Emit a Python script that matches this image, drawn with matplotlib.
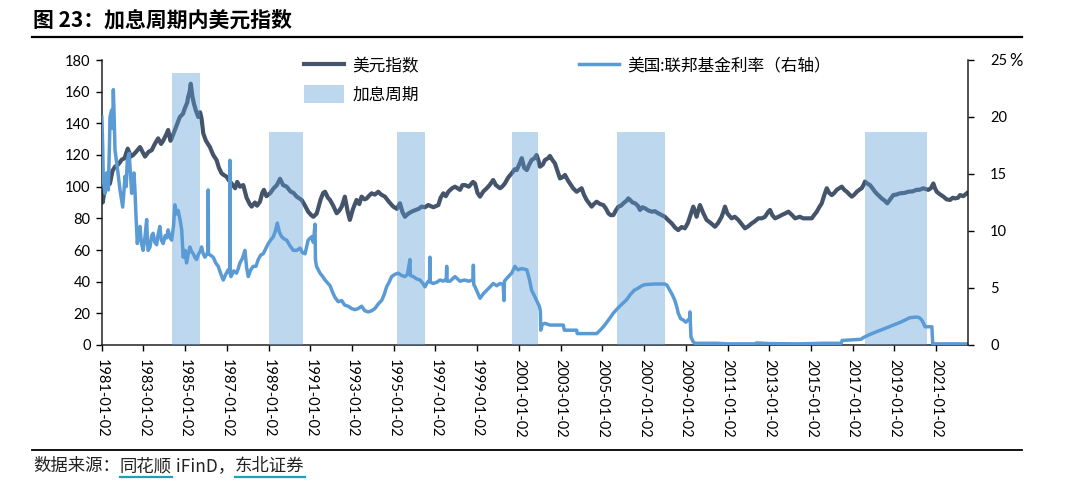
import datetime as dt
import matplotlib
matplotlib.use('Agg')
import matplotlib.pyplot as plt
import matplotlib.dates as mdates
from matplotlib.lines import Line2D

plt.rcParams['font.family'] = ['Lato', 'Noto Sans CJK SC', 'DejaVu Sans']
plt.rcParams['axes.unicode_minus'] = False

## ---- data (time as decimal year) ----
dxy_t = [1981.01, 1981.05, 1981.12, 1981.25, 1981.40, 1981.52, 1981.64, 1981.80, 1981.96, 1982.10,
         1982.25, 1982.40, 1982.51, 1982.65, 1982.84, 1983.00, 1983.08, 1983.25, 1983.40, 1983.55,
         1983.71, 1983.85, 1983.95, 1984.10, 1984.19, 1984.30, 1984.36, 1984.55, 1984.75, 1984.90,
         1984.99, 1985.10, 1985.15, 1985.22, 1985.27, 1985.35, 1985.42, 1985.52, 1985.63, 1985.72,
         1985.79, 1985.87, 1986.00, 1986.19, 1986.35, 1986.51, 1986.62, 1986.75, 1986.90, 1986.99,
         1987.10, 1987.23, 1987.40, 1987.50, 1987.63, 1987.79, 1987.95, 1988.10, 1988.19, 1988.35,
         1988.45, 1988.59, 1988.70, 1988.78, 1988.90, 1989.07, 1989.25, 1989.40, 1989.55, 1989.70,
         1989.87, 1990.05, 1990.20, 1990.35, 1990.59, 1990.75, 1990.90, 1991.05, 1991.15, 1991.31,
         1991.50, 1991.62, 1991.71, 1991.85, 1991.95, 1992.10, 1992.27, 1992.40, 1992.51, 1992.66,
         1992.80, 1992.90, 1993.05, 1993.22, 1993.35, 1993.46, 1993.60, 1993.70, 1993.80, 1993.94,
         1994.10, 1994.26, 1994.40, 1994.58, 1994.80, 1994.98, 1995.15, 1995.30, 1995.42, 1995.54,
         1995.70, 1995.86, 1996.00, 1996.20, 1996.34, 1996.50, 1996.66, 1996.90, 1997.14, 1997.25,
         1997.38, 1997.50, 1997.62, 1997.80, 1997.94, 1998.06, 1998.18, 1998.30, 1998.42, 1998.60,
         1998.80, 1998.90, 1999.02, 1999.14, 1999.30, 1999.46, 1999.60, 1999.77, 1999.90, 2000.10,
         2000.20, 2000.33, 2000.50, 2000.66, 2000.80, 2000.90, 2001.05, 2001.14, 2001.25, 2001.38,
         2001.50, 2001.61, 2001.75, 2001.85, 2001.95, 2002.01, 2002.15, 2002.25, 2002.40, 2002.49,
         2002.60, 2002.73, 2002.85, 2002.97, 2003.10, 2003.21, 2003.35, 2003.45, 2003.60, 2003.77,
         2003.90, 2004.01, 2004.12, 2004.25, 2004.40, 2004.49, 2004.60, 2004.73, 2004.90, 2005.05,
         2005.18, 2005.29, 2005.40, 2005.53, 2005.65, 2005.77, 2005.90, 2006.01, 2006.15, 2006.25,
         2006.33, 2006.45, 2006.57, 2006.70, 2006.81, 2006.92, 2007.05, 2007.20, 2007.37, 2007.52,
         2007.68, 2007.85, 2008.00, 2008.15, 2008.33, 2008.50, 2008.64, 2008.80, 2008.96, 2009.10,
         2009.20, 2009.36, 2009.45, 2009.52, 2009.60, 2009.68, 2009.85, 2010.00, 2010.20, 2010.40,
         2010.55, 2010.72, 2010.80, 2010.88, 2011.00, 2011.20, 2011.35, 2011.52, 2011.70, 2011.84,
         2012.00, 2012.16, 2012.30, 2012.48, 2012.65, 2012.80, 2012.95, 2013.04, 2013.15, 2013.28,
         2013.45, 2013.60, 2013.75, 2013.92, 2014.10, 2014.24, 2014.47, 2014.63, 2014.85, 2015.04,
         2015.15, 2015.28, 2015.40, 2015.52, 2015.65, 2015.76, 2015.88, 2016.00, 2016.12, 2016.24,
         2016.36, 2016.48, 2016.60, 2016.72, 2016.85, 2016.96, 2017.08, 2017.20, 2017.32, 2017.43,
         2017.52, 2017.59, 2017.70, 2017.83, 2017.95, 2018.07, 2018.20, 2018.39, 2018.55, 2018.66,
         2018.80, 2018.95, 2019.10, 2019.27, 2019.47, 2019.67, 2019.87, 2020.07, 2020.20, 2020.39,
         2020.50, 2020.63, 2020.75, 2020.87, 2020.95, 2021.03, 2021.20, 2021.35, 2021.50, 2021.67,
         2021.80, 2021.91, 2022.05, 2022.15, 2022.30, 2022.47]
dxy_v = [108, 90, 96, 100, 102, 110, 112.6, 114, 117, 118,
         124, 119, 120, 122, 125, 121, 119, 122, 123, 127,
         130.5, 127, 129, 133, 135.8, 129, 130.5, 137, 144, 146,
         149.5, 153, 156.8, 160, 165, 157, 152.6, 148, 144, 147,
         143, 133.7, 129, 125, 120, 116.8, 112, 108.4, 107, 106.3,
         104, 102, 99, 103, 100, 101, 93, 89, 87.4, 90,
         88, 90.5, 96, 98, 94, 95.8, 99, 101, 105, 101,
         100, 97, 96, 93.7, 91.6, 88, 84.2, 82, 81, 83,
         92, 96, 96.8, 93, 91.6, 88, 83.2, 85, 87.4, 93.7,
         84, 79, 86, 91.6, 89, 93.7, 92, 92.5, 94, 95.8,
         95, 96.8, 95, 93.7, 90, 87.4, 86, 89.5, 84, 81,
         83, 84.2, 85, 86, 87.4, 87, 88.4, 87, 88.4, 93,
         95.8, 94, 96.8, 99, 100, 99, 98, 101, 101, 100,
         103, 102, 96, 93.7, 97, 99, 101, 104.2, 101, 99,
         100, 102, 106, 108.4, 111, 110.5, 115, 118, 112, 110.5,
         114, 116.8, 118, 120, 116, 112.6, 114, 116.8, 118, 119.4,
         117, 114.7, 110, 105.2, 106, 107.4, 104, 102, 99, 96.8,
         98, 99, 95, 91.6, 89, 87.4, 89, 90.5, 89, 88.4,
         86, 83.2, 82, 82.1, 85, 87.4, 88, 89.5, 91, 92.6,
         91.6, 90, 89.5, 88, 85.3, 87, 86.3, 85, 84.2, 84.5,
         83.2, 82, 81, 79, 76.8, 74, 72.6, 74.5, 73.7, 77,
         81, 87.4, 84, 81, 85, 88.4, 83, 79, 77, 74.7,
         77, 81, 84, 87.4, 83, 80, 81, 79, 76, 73.7,
         75, 76.8, 78, 80, 80, 81, 84, 85.3, 82, 80,
         81, 82.1, 83, 84.2, 82, 80, 81, 80, 80, 80,
         82, 84.2, 87, 89.5, 95, 99, 96, 94.7, 96, 98,
         99, 100, 98, 96.8, 95, 93.7, 95, 96.8, 98, 99,
         101, 103.2, 102, 101, 99, 96.8, 95, 92.6, 91, 89.5,
         92, 94.7, 95, 95.8, 96, 96.8, 97, 98, 98, 99,
         98.5, 98, 99, 102, 99, 96.8, 95, 93.7, 92, 91.6,
         93, 92.6, 93, 94.7, 94, 95.8]

ffr_t = [1981.01, 1981.05, 1981.08, 1981.16, 1981.24, 1981.32, 1981.38, 1981.40, 1981.48, 1981.53,
         1981.56, 1981.60, 1981.64, 1981.75, 1981.82, 1981.88, 1982.01, 1982.07, 1982.12, 1982.18,
         1982.23, 1982.32, 1982.38, 1982.44, 1982.50, 1982.55, 1982.60, 1982.64, 1982.71, 1982.78,
         1982.84, 1982.90, 1982.99, 1983.08, 1983.16, 1983.20, 1983.23, 1983.32, 1983.40, 1983.47,
         1983.55, 1983.64, 1983.70, 1983.79, 1983.86, 1983.95, 1984.05, 1984.12, 1984.19, 1984.28,
         1984.36, 1984.45, 1984.51, 1984.60, 1984.67, 1984.76, 1984.84, 1984.91, 1985.00, 1985.07,
         1985.15, 1985.23, 1985.31, 1985.39, 1985.47, 1985.55, 1985.65, 1985.72, 1985.79, 1985.87,
         1985.95, 1986.05, 1986.10, 1986.11, 1986.12, 1986.20, 1986.35, 1986.47, 1986.59, 1986.70,
         1986.83, 1986.95, 1987.07, 1987.14, 1987.15, 1987.16, 1987.20, 1987.33, 1987.47, 1987.55,
         1987.63, 1987.75, 1987.87, 1987.95, 1988.03, 1988.15, 1988.27, 1988.40, 1988.51, 1988.63,
         1988.75, 1988.88, 1988.99, 1989.10, 1989.23, 1989.33, 1989.42, 1989.52, 1989.63, 1989.75,
         1989.87, 1990.03, 1990.19, 1990.35, 1990.51, 1990.63, 1990.75, 1990.90, 1991.07, 1991.15,
         1991.23, 1991.25, 1991.30, 1991.47, 1991.60, 1991.71, 1991.85, 1991.95, 1992.08, 1992.18,
         1992.34, 1992.51, 1992.65, 1992.82, 1992.98, 1993.14, 1993.30, 1993.46, 1993.62, 1993.78,
         1993.94, 1994.10, 1994.26, 1994.42, 1994.54, 1994.66, 1994.78, 1994.90, 1995.06, 1995.22,
         1995.38, 1995.54, 1995.66, 1995.78, 1995.80, 1995.94, 1996.10, 1996.26, 1996.40, 1996.50,
         1996.62, 1996.72, 1996.74, 1996.76, 1996.90, 1997.06, 1997.22, 1997.38, 1997.52, 1997.54,
         1997.56, 1997.70, 1997.94, 1998.18, 1998.40, 1998.60, 1998.80, 1998.82, 1998.84, 1998.90,
         1999.02, 1999.14, 1999.30, 1999.46, 1999.62, 1999.77, 1999.94, 2000.10, 2000.25, 2000.29,
         2000.31, 2000.45, 2000.60, 2000.66, 2000.81, 2000.95, 2001.14, 2001.38, 2001.50, 2001.61,
         2001.75, 2001.85, 2001.98, 2002.03, 2002.05, 2002.12, 2002.25, 2002.49, 2002.80, 2003.13,
         2003.18, 2003.29, 2003.77, 2003.80, 2004.73, 2004.90, 2005.05, 2005.30, 2005.53, 2005.78,
         2006.01, 2006.18, 2006.33, 2006.53, 2006.73, 2006.90, 2007.05, 2007.50, 2008.00, 2008.10,
         2008.24, 2008.36, 2008.48, 2008.58, 2008.64, 2008.76, 2008.88, 2009.00, 2009.12, 2009.18,
         2009.20, 2009.23, 2009.25, 2009.35, 2009.44, 2010.50, 2011.00, 2012.30, 2012.40, 2013.00,
         2014.50, 2015.58, 2016.45, 2016.50, 2017.40, 2017.51, 2017.80, 2018.15, 2018.55, 2018.95,
         2019.30, 2019.75, 2020.07, 2020.20, 2020.31, 2020.40, 2020.47, 2020.80, 2020.84, 2022.47]
ffr_v = [20.0, 17.5, 14.5, 13.3, 15.1, 13.6, 18.0, 20.0, 20.6, 19.0,
         22.4, 20.0, 17.1, 15.6, 14.5, 13.6, 12.1, 13.5, 14.8, 13.9,
         16.2, 16.8, 15.0, 13.3, 14.5, 15.1, 13.5, 11.6, 8.9, 10.0,
         10.4, 9.0, 8.3, 9.5, 11.0, 9.0, 8.3, 8.6, 9.6, 9.8,
         9.0, 8.8, 9.6, 10.4, 9.2, 8.9, 9.6, 9.4, 10.1, 9.4,
         9.2, 10.5, 12.3, 11.5, 11.8, 11.0, 10.1, 7.7, 8.3, 7.2,
         8.0, 8.6, 8.2, 8.0, 7.7, 7.5, 8.0, 8.2, 8.6, 8.0,
         7.7, 8.0, 8.2, 13.6, 8.0, 7.9, 7.7, 7.2, 6.9, 6.3,
         5.7, 6.2, 6.6, 6.4, 16.2, 6.3, 6.0, 6.5, 6.3, 6.7,
         7.2, 7.6, 8.3, 6.8, 6.0, 6.6, 6.9, 6.9, 7.5, 7.9,
         8.0, 8.5, 8.9, 9.2, 9.5, 10.0, 10.7, 9.9, 9.5, 9.3,
         9.2, 8.7, 8.3, 8.3, 8.5, 8.1, 8.0, 9.2, 9.5, 9.0,
         10.6, 7.5, 6.9, 6.3, 6.0, 5.7, 5.4, 5.2, 4.6, 4.2,
         3.8, 3.9, 3.5, 3.4, 3.2, 3.1, 3.2, 3.4, 3.0, 2.9,
         3.0, 3.2, 3.6, 3.9, 4.4, 5.1, 5.5, 6.0, 6.2, 6.3,
         6.1, 6.0, 6.2, 7.5, 6.1, 6.0, 5.8, 5.7, 5.4, 5.1,
         5.5, 5.7, 7.7, 5.5, 5.4, 5.5, 5.7, 5.6, 5.8, 6.9,
         5.6, 5.6, 6.0, 5.6, 5.7, 5.6, 5.7, 7.0, 5.3, 5.1,
         4.6, 4.1, 4.5, 4.8, 5.1, 5.4, 5.2, 5.4, 5.3, 3.9,
         5.6, 5.9, 6.2, 6.3, 6.9, 6.6, 6.7, 6.6, 5.8, 4.8,
         4.3, 3.9, 3.4, 3.0, 1.3, 1.8, 1.9, 1.75, 1.75, 1.75,
         1.3, 1.3, 1.3, 1.0, 1.0, 1.3, 1.6, 2.2, 2.8, 3.3,
         3.7, 4.0, 4.4, 4.8, 5.0, 5.2, 5.3, 5.35, 5.35, 5.25,
         4.8, 4.4, 3.9, 3.3, 2.8, 2.3, 2.2, 2.0, 2.2, 2.2,
         2.9, 1.5, 0.7, 0.3, 0.15, 0.15, 0.1, 0.1, 0.18, 0.12,
         0.1, 0.15, 0.15, 0.4, 0.5, 0.65, 0.9, 1.17, 1.45, 1.75,
         2.0, 2.4, 2.45, 2.4, 2.2, 1.9, 1.6, 1.6, 0.1, 0.1]

hike_start = [1984.37, 1989.02, 1995.14, 2000.67, 2005.70, 2017.58]
hike_end = [1985.71, 1990.65, 1996.51, 2001.90, 2007.99, 2020.55]
hike_top = [172, 134.5, 134.5, 134.5, 134.5, 134.5]

tick_years = list(range(1981, 2022, 2))

DXY_COLOR = '#44546A'
FFR_COLOR = '#5B9BD5'
TEAL = '#1AA3B5'


def to_date(y):
    '''decimal year -> datetime'''
    year = int(y)
    return dt.datetime(year, 1, 1) + dt.timedelta(days=(y - year) * 365.25)


W, H = 1080, 483
fig = plt.figure(figsize=(W / 100, H / 100), dpi=100)
ax = fig.add_axes([101.7 / W, (H - 345) / H, 866.3 / W, 285 / H])
ax2 = ax.twinx()

# lines
l1, = ax.plot([to_date(t) for t in dxy_t], dxy_v, color=DXY_COLOR, lw=3.0,
              label='美元指数', zorder=2, solid_joinstyle='round')
l2, = ax2.plot([to_date(t) for t in ffr_t], ffr_v, color=FFR_COLOR, lw=2.5,
               label='美国:联邦基金利率（右轴）', zorder=2, solid_joinstyle='round')

# hike cycles, drawn semi-transparent over the dollar index
starts = [to_date(s) for s in hike_start]
widths = [(to_date(e) - to_date(s)).days for s, e in zip(hike_start, hike_end)]
bars = ax.bar(starts, hike_top, width=widths, align='edge', color=FFR_COLOR,
              alpha=0.4, lw=0, zorder=3, label='加息周期')

# axes
ax.set_xlim(dt.datetime(1981, 1, 2), to_date(2022.53))
ax.set_ylim(0, 180)
ax.set_yticks(range(0, 181, 20))
ax2.set_ylim(0, 25)
ax2.set_yticks(range(0, 26, 5))

ax.set_xticks([dt.datetime(y, 1, 2) for y in tick_years])
ax.xaxis.set_major_formatter(mdates.DateFormatter('%Y-%m-%d'))
for lab in ax.get_xticklabels():
    lab.set_rotation(-90)

for a in (ax, ax2):
    a.spines['top'].set_visible(False)
    for s in ('left', 'right', 'bottom'):
        a.spines[s].set_linewidth(1.1)
        a.spines[s].set_color('#222222')
ax.spines['right'].set_visible(False)
ax2.spines['left'].set_visible(False)
ax2.spines['bottom'].set_visible(False)

ax.tick_params(axis='y', direction='out', length=4, width=1, labelsize=10.5, pad=4)
ax.tick_params(axis='x', direction='out', length=4, width=1, labelsize=10.5, pad=6)
ax2.tick_params(axis='y', direction='out', length=4, width=1, labelsize=10.5, pad=12)
ax2.text(1.048, 25, '%', transform=ax2.get_yaxis_transform(), fontsize=12,
         va='center_baseline', ha='left')

# legend
ax.legend([l1, bars, l2], ['美元指数', '加息周期', '美国:联邦基金利率（右轴）'],
          ncol=2, loc='upper left', bbox_to_anchor=(0.226, 1.035), frameon=False,
          fontsize=12, handlelength=2.4, handleheight=1.35, handletextpad=0.5,
          columnspacing=9.6, labelspacing=0.55, borderaxespad=0)

# title + rules
fig.text(33 / W, 1 - 20 / H, '图 23：加息周期内美元指数', fontsize=15, fontweight='bold',
         va='center', ha='left', family=['Noto Sans CJK SC'])
fig.add_artist(Line2D([32 / W, 1022 / W], [1 - 37 / H, 1 - 37 / H], color='black',
                      lw=1.6, transform=fig.transFigure))
fig.add_artist(Line2D([32 / W, 1022 / W], [1 - 450 / H, 1 - 450 / H], color='black',
                      lw=1.3, transform=fig.transFigure))

# source line, with underlined names
fig.canvas.draw()
renderer = fig.canvas.get_renderer()
pieces = [('数据来源：', False), ('同花顺', True), (' iFinD，', False), ('东北证券', True)]
x = 33 / W
y = 1 - 466 / H
for s, ul in pieces:
    t = fig.text(x, y, s, fontsize=12.5, va='center', ha='left',
                 family=['Noto Sans CJK SC', 'DejaVu Sans'], color='#222222')
    bb = t.get_window_extent(renderer)
    if ul:
        fig.add_artist(Line2D([bb.x0 / W, bb.x1 / W], [1 - 477 / H, 1 - 477 / H],
                              color=TEAL, lw=1.6, transform=fig.transFigure))
    x = bb.x1 / W

fig.savefig('out.png', dpi=100)
